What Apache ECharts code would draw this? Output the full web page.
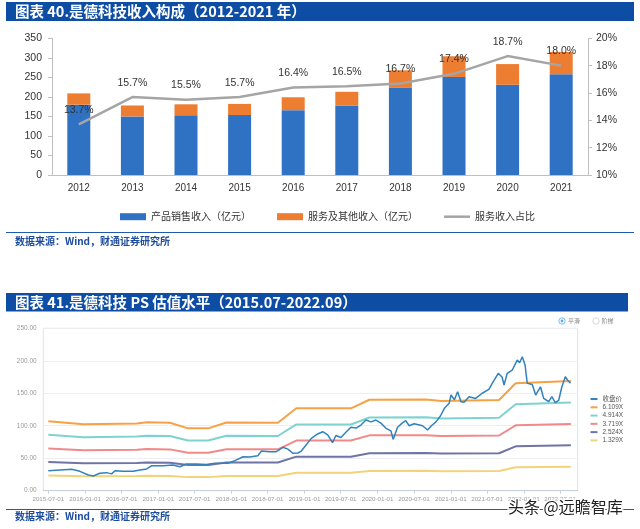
<!DOCTYPE html>
<html><head><meta charset="utf-8">
<script src="https://cdn.jsdelivr.net/npm/echarts@6/dist/echarts.min.js"></script>
<style>html,body{margin:0;padding:0;background:#fff}#c{width:640px;height:529px}</style>
</head><body><div id="c"></div>
<script>
// ---------- Chart 1 data ----------
const years = ['2012','2013','2014','2015','2016','2017','2018','2019','2020','2021'];
const productRevenue = [180, 150, 153, 153.5, 166, 178, 223, 251, 231, 258];
const serviceRevenue = [29, 28, 28, 28.5, 33, 35, 45, 53, 53, 57];
const serviceShare = [13.7, 15.7, 15.5, 15.7, 16.4, 16.5, 16.7, 17.4, 18.7, 18.0];

// ---------- Chart 2 data ----------
const xTickLabels = ['2015-07-01','2016-01-01','2016-07-01','2017-01-01','2017-07-01','2018-01-01','2018-07-01','2019-01-01','2019-07-01','2020-01-01','2020-07-01','2021-01-01','2021-07-01','2022-01-01','2022-07-01'];
const priceDates = ['2015-07-01','2015-08-29','2015-10-26','2015-12-06','2016-01-17','2016-02-11','2016-03-14','2016-04-17','2016-05-12','2016-05-29','2016-07-08','2016-08-29','2016-10-01','2016-11-04','2016-11-29','2017-01-26','2017-03-15','2017-04-18','2017-05-21','2017-07-10','2017-08-29','2017-10-10','2017-12-15','2018-01-18','2018-03-01','2018-04-02','2018-05-13','2018-05-30','2018-07-10','2018-08-13','2018-09-15','2018-10-10','2018-11-04','2018-11-29','2018-12-16','2019-01-02','2019-02-04','2019-03-08','2019-04-02','2019-04-27','2019-05-21','2019-06-07','2019-07-02','2019-07-27','2019-08-21','2019-09-16','2019-10-10','2019-11-04','2019-11-29','2019-12-24','2020-01-18','2020-02-12','2020-03-08','2020-03-19','2020-04-10','2020-05-03','2020-05-21','2020-06-07','2020-07-02','2020-08-13','2020-09-07','2020-09-26','2020-10-19','2020-11-10','2020-11-30','2020-12-24','2021-01-02','2021-01-19','2021-02-04','2021-02-21','2021-03-08','2021-04-02','2021-05-05','2021-06-07','2021-07-10','2021-07-27','2021-08-26','2021-09-14','2021-09-24','2021-10-10','2021-11-04','2021-11-29','2021-12-11','2021-12-24','2022-01-07','2022-01-18','2022-02-12','2022-03-01','2022-03-25','2022-04-10','2022-05-05','2022-05-21','2022-06-07','2022-06-24','2022-07-10','2022-07-27','2022-08-08','2022-08-22'];
const closePrice = [30.8,31.9,32.9,29.8,24.2,22.6,26.8,27.8,25.9,30.8,29.8,29.8,31.9,33.5,38.5,38.5,39.5,36.9,41,41,40.5,42.2,42.2,46.2,52.3,52,53.9,61,60,60,66.8,64,57.6,58,61,67.7,80.6,87.3,90.8,86,73.9,85,82,90,97.6,96.5,101.1,108.8,106,108.8,104,96,92,79,97.6,104,107.8,100,103,100,93.4,100,106,115,126.8,134.5,147.3,140,152.4,137,136,144.7,142,150,156,165.3,180.7,175,162.7,180.7,185.8,201,197,206.3,193.5,165.3,163.5,147.3,160,142.2,137,144.7,135.5,139,160,175.5,170,165.3];
const bandDates = ['2015-07-01','2015-12-23','2016-09-15','2016-11-04','2017-02-28','2017-05-29','2017-09-07','2017-12-07','2018-08-21','2018-11-21','2019-08-21','2019-11-21','2020-08-30','2020-11-13','2021-08-30','2021-11-21','2022-08-24'];
const band6109 = [107.0,102.2,103.5,105.3,104.5,96.0,96.0,105.0,104.7,126.8,126.8,140.0,140.5,138.2,139.6,165.3,168.9];
const band4914 = [86.1,82.2,83.3,84.7,84.1,77.2,77.2,84.5,84.2,102.0,102.0,112.6,113.0,111.2,112.3,133.0,135.9];
const band3719 = [65.1,62.2,63.0,64.1,63.6,58.4,58.4,63.9,63.7,77.2,77.2,85.2,85.5,84.1,85.0,100.6,102.8];
const band2524 = [44.2,42.2,42.8,43.5,43.2,39.7,39.7,43.4,43.3,52.4,52.4,57.8,58.1,57.1,57.7,68.3,69.8];
const band1329 = [23.3,22.2,22.5,22.9,22.7,20.9,20.9,22.8,22.8,27.6,27.6,30.5,30.6,30.1,30.4,36.0,36.8];
const lineNames = ['收盘价','6.109X','4.914X','3.719X','2.524X','1.329X'];

function P(s){const a=s.split('-').map(Number);return new Date(a[0],a[1]-1,a[2]).getTime();}
function pad(n){return (n<10?'0':'')+n;}
function fmtDate(v){const d=new Date(v);return d.getFullYear()+'-'+pad(d.getMonth()+1)+'-'+pad(d.getDate());}
function zip(dates, vals){return dates.map((d,i)=>[P(d), vals[i]]);}

const FONT = 'Liberation Sans, Noto Sans CJK SC, sans-serif';
const CJK = 'Noto Sans CJK SC, sans-serif';
const bandColors = ['#F7A145','#7DD3D0','#F08A8A','#6F73A6','#F2D37A'];
const bands = [band6109, band4914, band3719, band2524, band1329];
const tickVals = xTickLabels.map(P);

const chart = echarts.init(document.getElementById('c'), null, {renderer:'canvas'});

const series = [
  {name:'产品销售收入（亿元）', type:'bar', stack:'rev', xAxisIndex:0, yAxisIndex:0, data:productRevenue, barWidth:23, itemStyle:{color:'#2F72C4'}},
  {name:'服务及其他收入（亿元）', type:'bar', stack:'rev', xAxisIndex:0, yAxisIndex:0, data:serviceRevenue, barWidth:23, itemStyle:{color:'#ED7D31'}},
  {name:'服务收入占比', type:'line', xAxisIndex:0, yAxisIndex:1, data:serviceShare, symbol:'circle', symbolSize:0.1, showSymbol:true, z:5,
    itemStyle:{color:'#A5A5A5'}, lineStyle:{color:'#A5A5A5', width:2.5},
    label:{show:true, position:'top', distance:9, formatter:p=>p.value.toFixed(1)+'%', fontSize:10.5, color:'#333', fontFamily:FONT}}
];
bands.forEach((b,i)=>{
  series.push({name:lineNames[i+1], type:'line', xAxisIndex:1, yAxisIndex:2, data:zip(bandDates,b), symbol:'none',
    itemStyle:{color:bandColors[i]}, lineStyle:{color:bandColors[i], width:2}, z:2});
});
series.push({name:'收盘价', type:'line', xAxisIndex:1, yAxisIndex:2, data:zip(priceDates,closePrice), symbol:'none',
  itemStyle:{color:'#3182BD'}, lineStyle:{color:'#3182BD', width:1.5}, z:4});

const option = {
  animation:false,
  backgroundColor:'#fff',
  grid:[
    {left:52, right:52, top:38.3, height:136.7},
    {left:43.3, right:62.3, top:328.3, height:162.4, show:true, borderColor:'#DDE3EA', borderWidth:1}
  ],
  legend:[
    {left:115, top:206.7, itemWidth:26, itemHeight:7, itemGap:26,
      textStyle:{fontSize:10, color:'#333', fontFamily:CJK},
      data:[{name:'产品销售收入（亿元）', icon:'rect'},{name:'服务及其他收入（亿元）', icon:'rect'},{name:'服务收入占比', icon:'path://M0,0H26V2.5H0Z'}]},
    {orient:'vertical', left:585.5, top:389.9, itemWidth:7, itemHeight:2, itemGap:0,
      textStyle:{fontSize:6.5, lineHeight:8.27, color:'#555', fontFamily:FONT},
      data:lineNames.map(n=>({name:n, icon:'rect'}))}
  ],
  xAxis:[
    {type:'category', gridIndex:0, data:years, axisTick:{show:false},
      axisLine:{lineStyle:{color:'#BFBFBF'}},
      axisLabel:{fontSize:10, color:'#333', margin:8, fontFamily:FONT}},
    {type:'value', gridIndex:1, min:P('2015-06-06'), max:P('2022-09-27'), scale:true,
      axisLine:{show:true, lineStyle:{color:'#C8D0DA'}},
      axisTick:{show:true, length:3, lineStyle:{color:'#C8D0DA'}, customValues:tickVals},
      axisLabel:{fontSize:6.2, color:'#999', margin:5, fontFamily:FONT, customValues:tickVals, formatter:v=>fmtDate(v)},
      splitLine:{show:false}}
  ],
  yAxis:[
    {type:'value', gridIndex:0, min:0, max:350, interval:50, splitLine:{show:false},
      axisLine:{show:true, lineStyle:{color:'#BFBFBF'}}, axisTick:{show:true, length:4, lineStyle:{color:'#BFBFBF'}},
      axisLabel:{fontSize:10.5, color:'#333', margin:10, fontFamily:FONT}},
    {type:'value', gridIndex:0, position:'right', min:10, max:20, interval:2, splitLine:{show:false},
      axisLine:{show:true, lineStyle:{color:'#BFBFBF'}}, axisTick:{show:true, length:4, lineStyle:{color:'#BFBFBF'}},
      axisLabel:{fontSize:10.5, color:'#333', margin:8, formatter:'{value}%', fontFamily:FONT}},
    {type:'value', gridIndex:1, min:0, max:250, interval:50,
      splitLine:{show:true, lineStyle:{color:'#ECEEF1'}},
      axisLine:{show:false}, axisTick:{show:false},
      axisLabel:{fontSize:6.5, color:'#999', margin:6.6, formatter:v=>v.toFixed(2), fontFamily:FONT}}
  ],
  series:series,
  graphic:[
    {type:'rect', shape:{x:6, y:2, width:628, height:19}, style:{fill:'#0E4DA4'}, silent:true},
    {type:'text', x:15, y:11.5, style:{text:'图表 40.是德科技收入构成（2012-2021 年）', fill:'#fff', font:'bold 14.5px '+CJK, textVerticalAlign:'middle'}},
    {type:'line', shape:{x1:6, y1:232.5, x2:634, y2:232.5}, style:{stroke:'#1F5AAE', lineWidth:1.2}},
    {type:'text', x:15, y:241, style:{text:'数据来源：Wind，财通证券研究所', fill:'#1C4C9C', font:'bold 10px '+CJK, textVerticalAlign:'middle'}},
    {type:'rect', shape:{x:6, y:293, width:622, height:18.5}, style:{fill:'#0E4DA4'}, silent:true},
    {type:'text', x:15, y:302.3, style:{text:'图表 41.是德科技 PS 估值水平（2015.07-2022.09）', fill:'#fff', font:'bold 14.5px '+CJK, textVerticalAlign:'middle'}},
    {type:'circle', shape:{cx:562, cy:321, r:3.2}, style:{fill:'#fff', stroke:'#5AAEE3', lineWidth:0.8}},
    {type:'circle', shape:{cx:562, cy:321, r:1.4}, style:{fill:'#5AAEE3'}},
    {type:'text', x:568, y:321, style:{text:'平滑', fill:'#888', font:'6px '+CJK, textVerticalAlign:'middle'}},
    {type:'circle', shape:{cx:596, cy:321, r:3.2}, style:{fill:'#fff', stroke:'#CCCCCC', lineWidth:0.8}},
    {type:'text', x:601.5, y:321, style:{text:'阶梯', fill:'#888', font:'6px '+CJK, textVerticalAlign:'middle'}},
    {type:'line', shape:{x1:6, y1:509.5, x2:634, y2:509.5}, style:{stroke:'#1F5AAE', lineWidth:1.2}},
    {type:'text', x:15, y:516, style:{text:'数据来源：Wind，财通证券研究所', fill:'#1C4C9C', font:'bold 10px '+CJK, textVerticalAlign:'middle'}},
    {type:'text', x:508, y:507, z:100, style:{text:'头条 @远瞻智库', fill:'#222', font:'16px '+CJK, textVerticalAlign:'middle', stroke:'#fff', lineWidth:3}}
  ]
};
chart.setOption(option);
</script>
</body></html>
